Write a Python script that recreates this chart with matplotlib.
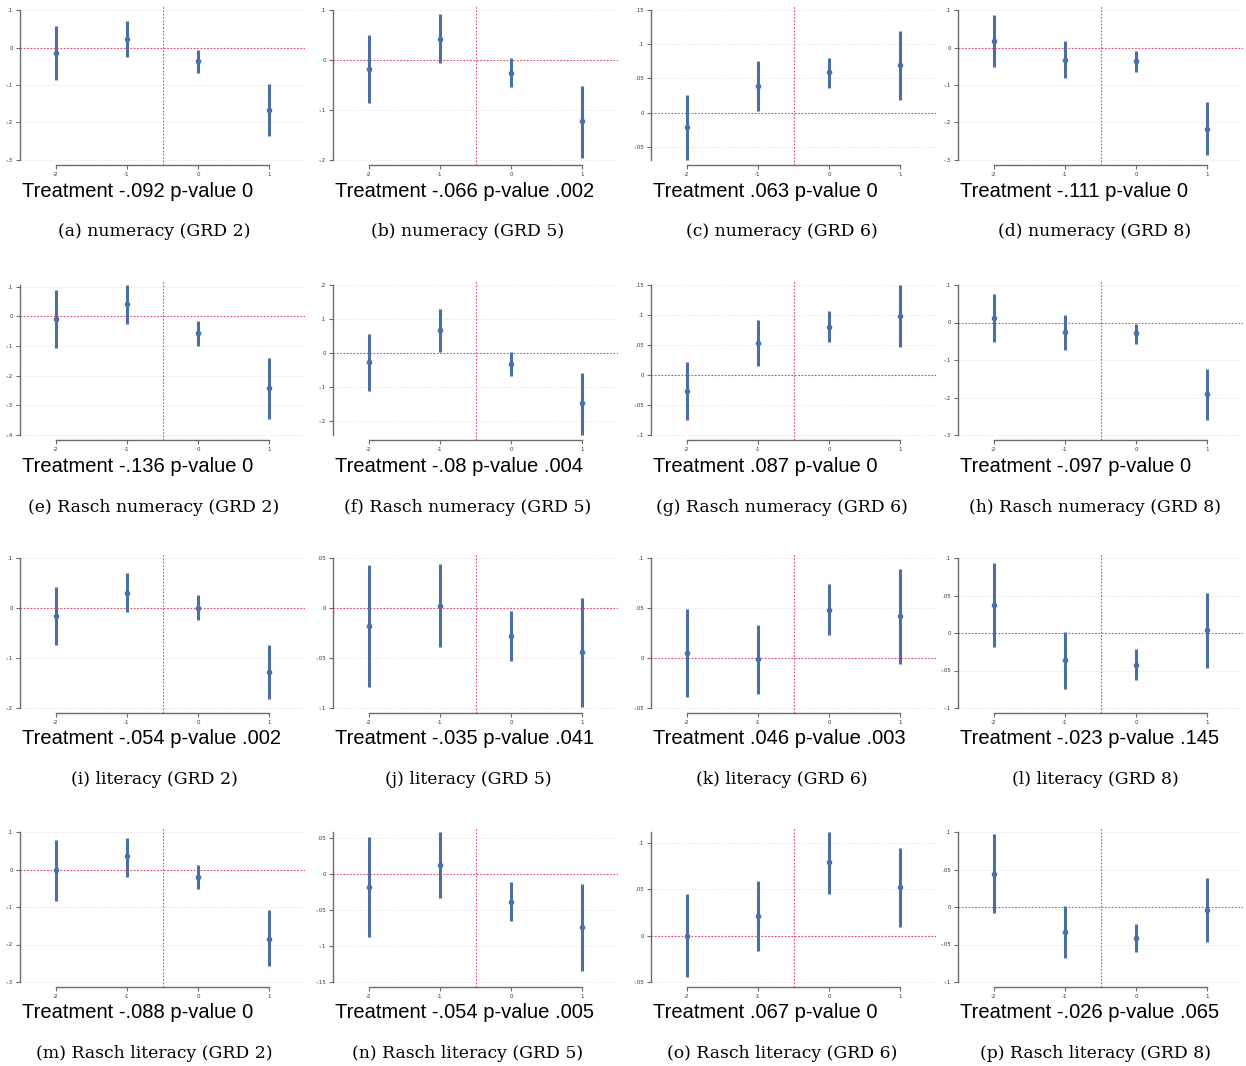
import numpy as np
import matplotlib.pyplot as plt

W, H = 1246, 1066

lags = [-2, -1, 0, 1]
grades = [2, 5, 6, 8]

# event-study estimates with 95% bounds; one row per grade (2, 5, 6, 8)
num_est = [[-0.014, 0.023, -0.037, -0.166], [-0.017, 0.043, -0.025, -0.123],
           [-0.021, 0.039, 0.059, 0.069], [0.017, -0.032, -0.036, -0.216]]
num_lo = [[-0.087, -0.025, -0.067, -0.235], [-0.087, -0.006, -0.054, -0.195],
          [-0.069, 0.003, 0.036, 0.018], [-0.051, -0.081, -0.064, -0.287]]
num_hi = [[0.057, 0.070, -0.007, -0.096], [0.051, 0.092, 0.004, -0.051],
          [0.026, 0.075, 0.080, 0.120], [0.086, 0.017, -0.010, -0.145]]

rnum_est = [[-0.009, 0.042, -0.056, -0.243], [-0.028, 0.067, -0.032, -0.149],
            [-0.027, 0.053, 0.080, 0.098], [0.013, -0.026, -0.029, -0.191]]
rnum_lo = [[-0.108, -0.024, -0.099, -0.346], [-0.111, 0.004, -0.067, -0.242],
           [-0.075, 0.015, 0.055, 0.046], [-0.051, -0.072, -0.056, -0.259]]
rnum_hi = [[0.090, 0.106, -0.016, -0.139], [0.056, 0.129, 0.002, -0.058],
           [0.021, 0.092, 0.106, 0.150], [0.075, 0.020, -0.004, -0.124]]

lit_est = [[-0.015, 0.031, 0.001, -0.128], [-0.018, 0.002, -0.028, -0.044],
           [0.005, -0.001, 0.048, 0.042], [0.038, -0.036, -0.042, 0.004]]
lit_lo = [[-0.073, -0.008, -0.023, -0.182], [-0.079, -0.039, -0.053, -0.099],
          [-0.039, -0.036, 0.023, -0.006], [-0.019, -0.075, -0.063, -0.047]]
lit_hi = [[0.042, 0.070, 0.026, -0.074], [0.043, 0.044, -0.003, 0.010],
          [0.049, 0.033, 0.074, 0.089], [0.093, 0.001, -0.021, 0.054]]

rlit_est = [[0.000, 0.035, -0.019, -0.184], [-0.018, 0.012, -0.039, -0.074],
            [0.000, 0.021, 0.080, 0.053], [0.044, -0.033, -0.041, -0.004]]
rlit_lo = [[-0.083, -0.021, -0.051, -0.257], [-0.088, -0.034, -0.065, -0.135],
           [-0.045, -0.017, 0.045, 0.009], [-0.008, -0.068, -0.060, -0.047]]
rlit_hi = [[0.080, 0.085, 0.011, -0.109], [0.051, 0.058, -0.011, -0.014],
           [0.045, 0.059, 0.112, 0.095], [0.097, 0.001, -0.023, 0.039]]

# y-axis label values
num_ticks = [[-.3, -.2, -.1, 0, .1], [-.2, -.1, 0, .1],
             [-.05, 0, .05, .1, .15], [-.3, -.2, -.1, 0, .1]]
rnum_ticks = [[-.4, -.3, -.2, -.1, 0, .1], [-.2, -.1, 0, .1, .2],
              [-.1, -.05, 0, .05, .1, .15], [-.3, -.2, -.1, 0, .1]]
lit_ticks = [[-.2, -.1, 0, .1], [-.1, -.05, 0, .05],
             [-.05, 0, .05, .1], [-.1, -.05, 0, .05, .1]]
rlit_ticks = [[-.3, -.2, -.1, 0, .1], [-.15, -.1, -.05, 0, .05],
              [-.05, 0, .05, .1], [-.1, -.05, 0, .05, .1]]

# pooled treatment coefficient and p-value
num_coef, num_p = [-.092, -.066, .063, -.111], [0, .002, 0, 0]
rnum_coef, rnum_p = [-.136, -.08, .087, -.097], [0, .004, 0, 0]
lit_coef, lit_p = [-.054, -.035, .046, -.023], [.002, .041, .003, .145]
rlit_coef, rlit_p = [-.088, -.054, .067, -.026], [0, .005, 0, .065]

outcomes = ["numeracy", "Rasch numeracy", "literacy", "Rasch literacy"]
letters = "abcdefghijklmnop"


def stata_fmt(v):
    s = f"{v:g}"
    if s.startswith("0.") or s.startswith("-0."):
        s = s.replace("0.", ".", 1)
    return s


rows = [
    (num_est, num_lo, num_hi, num_ticks, num_coef, num_p),
    (rnum_est, rnum_lo, rnum_hi, rnum_ticks, rnum_coef, rnum_p),
    (lit_est, lit_lo, lit_hi, lit_ticks, lit_coef, lit_p),
    (rlit_est, rlit_lo, rlit_hi, rlit_ticks, rlit_coef, rlit_p),
]

row_top = [10, 285, 558, 832]
col_spine = [20, 333, 651, 958]
col_center = [154, 468, 782, 1095]
ax_w = 285
blue = "#4a6fa5"
red = "#e2476e"
spine_col = "#6b6b6b"

fig = plt.figure(figsize=(W / 100, H / 100), dpi=100)

for r, (est, lo, hi, ticks, coef, pval) in enumerate(rows):
    for c in range(4):
        t = row_top[r]
        x0 = col_spine[c]
        ax = fig.add_axes([x0 / W, 1 - (t + 155) / H, ax_w / W, 159 / H])

        ylo = min(ticks[c][0], min(lo[c]))
        yhi = max(ticks[c][-1], max(hi[c]))
        scale = (yhi - ylo) / 150
        ax.set_ylim(ylo - 5 * scale, yhi + 4 * scale)
        ax.set_xlim(-2.5, 1.5)

        for yv in ticks[c]:
            ax.axhline(yv, color="#e4e4e4", lw=0.6, ls=(0, (2, 2)), zorder=0)
        ax.axhline(0, color=red, lw=0.8, ls=(0, (1.5, 1.5)), zorder=1)
        ax.axvline(-0.5, color=red, lw=0.8, ls=(0, (1.5, 1.5)), zorder=1)

        ax.vlines(lags, lo[c], hi[c], color=blue, lw=2.2, zorder=3)
        ax.plot(lags, est[c], "o", color=blue, ms=3, zorder=4)

        for side in ("top", "right"):
            ax.spines[side].set_visible(False)
        ax.spines["left"].set_bounds(ylo, yhi)
        ax.spines["bottom"].set_bounds(-2, 1)
        for side in ("left", "bottom"):
            ax.spines[side].set_color(spine_col)
            ax.spines[side].set_linewidth(1.0)

        ax.set_yticks(ticks[c])
        ax.set_yticklabels([stata_fmt(v) for v in ticks[c]])
        ax.set_xticks(lags)
        ax.set_xticklabels([stata_fmt(v) for v in lags])
        ax.tick_params(axis="both", labelsize=4, colors=spine_col,
                       labelcolor="#333333", length=3, width=0.8, pad=2)
        ax.patch.set_alpha(0)

        fig.text((x0 + 2) / W, 1 - (t + 181) / H,
                 f"Treatment {stata_fmt(coef[c])} p-value {stata_fmt(pval[c])}",
                 family="Liberation Sans", fontsize=14.5, ha="left", va="center")
        fig.text(col_center[c] / W, 1 - (t + 222) / H,
                 f"({letters[4 * r + c]}) {outcomes[r]} (GRD {grades[c]})",
                 family="DejaVu Serif", fontsize=12.4, ha="center", va="center")

fig.savefig("out.png", dpi=100)
